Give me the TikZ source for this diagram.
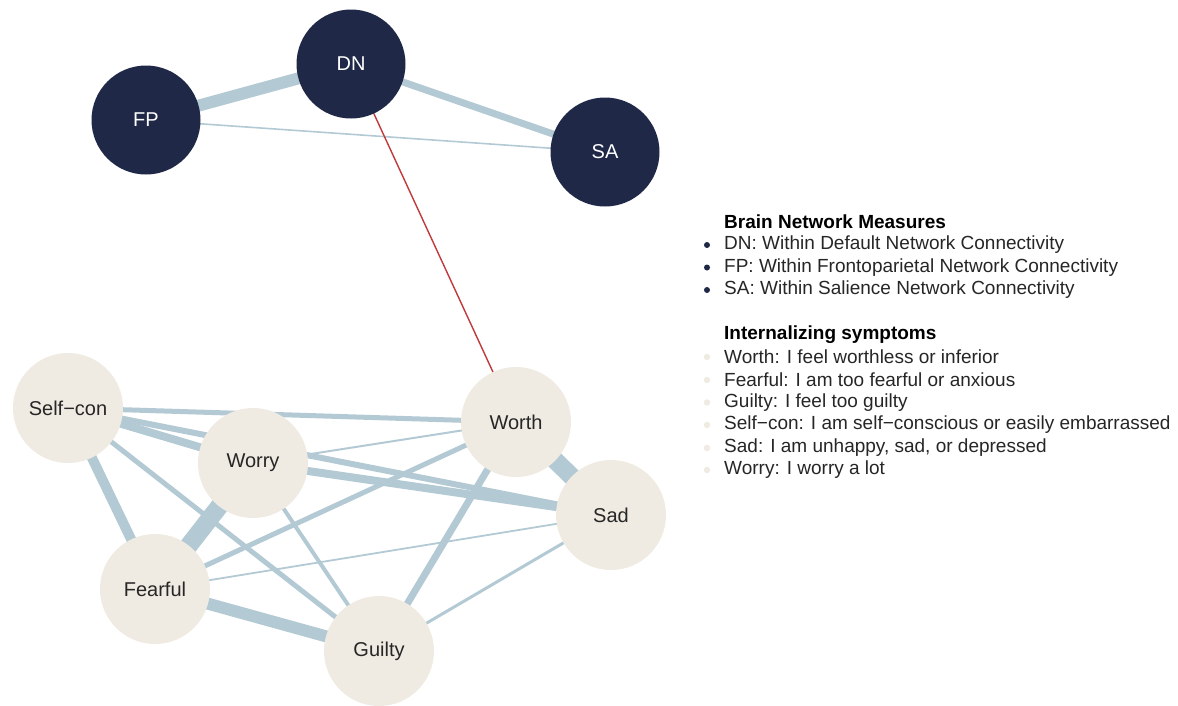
\documentclass[tikz,border=0pt]{standalone}
\usepackage{fontspec}
\setmainfont{Liberation Sans}
\usetikzlibrary{backgrounds}
\definecolor{navy}{HTML}{1F2846}
\definecolor{beige}{HTML}{F0EBE2}
\definecolor{edgeblue}{HTML}{B3CAD4}
\definecolor{negred}{HTML}{C0393B}
\tikzset{
  brain/.style={circle, fill=navy, text=white, minimum size=109pt, inner sep=0pt, font=\fontsize{20}{23}\selectfont},
  symptom/.style={circle, fill=beige, text=black!85, minimum size=110pt, inner sep=0pt, font=\fontsize{20}{23}\selectfont},
  link/.style={draw=edgeblue, line width=#1},
  neglink/.style={draw=negred, line width=1.4pt},
  legendhead/.style={anchor=west, inner sep=0pt, font=\fontsize{19}{22}\selectfont\bfseries},
  legenditem/.style={anchor=west, inner sep=0pt, font=\fontsize{19}{22}\selectfont, text=black!85},
}
\begin{document}
\begin{tikzpicture}[x=1pt, y=-1pt]
\useasboundingbox (0,0) rectangle (1178,705);

% brain network measures
\node[brain] (DN) at (351,64) {DN};
\node[brain] (FP) at (146,120) {FP};
\node[brain] (SA) at (605,152) {SA};

% internalizing symptoms
\node[symptom] (Selfcon) at (68,408) {Self\textminus con};
\node[symptom] (Worry)   at (253,463) {Worry};
\node[symptom] (Worth)   at (516,422) {Worth};
\node[symptom] (Sad)     at (611,515) {Sad};
\node[symptom] (Fearful) at (155,589) {Fearful};
\node[symptom] (Guilty)  at (379,651) {Guilty};

\begin{pgfonlayer}{background}
  % edges among brain networks
  \draw[link=12pt] (DN.center) -- (FP.center);
  \draw[link=7pt]  (DN.center) -- (SA.center);
  \draw[link=1.6pt] (FP.center) -- (SA.center);
  % cross edge
  \draw[neglink] (DN.center) -- (Worth.center);
  % edges among symptoms
  \draw[link=5pt]  (Selfcon.center) -- (Worth.center);
  \draw[link=8pt]  (Selfcon.center) -- (Worry.center);
  \draw[link=6pt]  (Selfcon.center) -- (Sad.center);
  \draw[link=10pt] (Selfcon.center) -- (Fearful.center);
  \draw[link=5pt]  (Selfcon.center) -- (Guilty.center);
  \draw[link=18pt] (Worry.center) -- (Fearful.center);
  \draw[link=4pt]  (Worry.center) -- (Guilty.center);
  \draw[link=2pt]  (Worry.center) -- (Worth.center);
  \draw[link=8pt]  (Worry.center) -- (Sad.center);
  \draw[link=5pt]  (Fearful.center) -- (Worth.center);
  \draw[link=1.8pt] (Fearful.center) -- (Sad.center);
  \draw[link=12pt] (Fearful.center) -- (Guilty.center);
  \draw[link=7pt]  (Guilty.center) -- (Worth.center);
  \draw[link=3pt]  (Guilty.center) -- (Sad.center);
  \draw[link=18pt] (Worth.center) -- (Sad.center);
\end{pgfonlayer}

% legend
\node[legendhead] (h1) at (724,222) {Brain Network Measures};
\node[legenditem] (l1) at (724,245) {DN: Within Default Network Connectivity};
\node[legenditem] (l2) at (724,267.5) {FP: Within Frontoparietal Network Connectivity};
\node[legenditem] (l3) at (724,290) {SA: Within Salience Network Connectivity};
\node[legendhead] (h2) at (724,335) {Internalizing symptoms};
\node[legenditem] (l4) at (724,357) {Worth: I feel worthless or inferior};
\node[legenditem] (l5) at (724,380) {Fearful: I am too fearful or anxious};
\node[legenditem] (l6) at (724,402.5) {Guilty: I feel too guilty};
\node[legenditem] (l7) at (724,425) {Self\textminus con: I am self\textminus conscious or easily embarrassed};
\node[legenditem] (l8) at (724,448) {Sad: I am unhappy, sad, or depressed};
\node[legenditem] (l9) at (724,470) {Worry: I worry a lot};
\foreach \n in {l1,l2,l3}
  \fill[navy] ([xshift=-17pt]\n.west) circle (3pt);
\foreach \n in {l4,l5,l6,l7,l8,l9}
  \fill[beige] ([xshift=-17pt]\n.west) circle (3.2pt);
\end{tikzpicture}
\end{document}
